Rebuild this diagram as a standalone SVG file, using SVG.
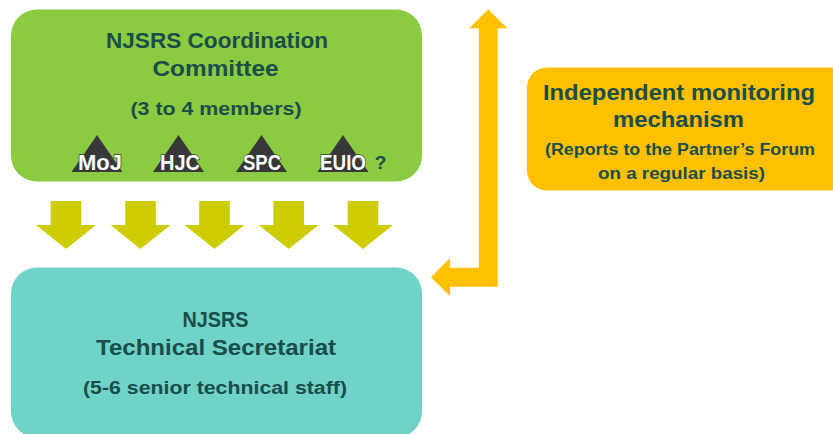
<svg xmlns="http://www.w3.org/2000/svg" width="833" height="434" viewBox="0 0 833 434">
<style>
  .t { font-family: "Liberation Sans", Arial, sans-serif; font-weight: bold; fill: #1B4D4A; text-anchor: middle; }
  .big { font-size: 22px; }
  .mid { font-size: 18px; }
  .sm { font-size: 16px; }
  .lbl { font-family: "Liberation Sans", Arial, sans-serif; font-weight: bold; font-size: 22px; fill: #FFFFFF; stroke: #383838; stroke-width: 1.5px; paint-order: stroke; text-anchor: middle; }
  .tri { fill: #383838; }
  .down { fill: #CCCC00; }
  .up { fill: #FFC000; }
</style>
<rect width="833" height="434" fill="#FFFFFF"/>

<g id="connectors">
  <polygon class="down" points="50.7,201 81.3,201 81.3,225 96,225 66,249 36,225 50.7,225"/>
  <polygon class="down" points="125.2,201 155.8,201 155.8,225 170.5,225 140.5,249 110.5,225 125.2,225"/>
  <polygon class="down" points="199.2,201 229.8,201 229.8,225 244.5,225 214.5,249 184.5,225 199.2,225"/>
  <polygon class="down" points="273.4,201 304,201 304,225 318.7,225 288.7,249 258.7,225 273.4,225"/>
  <polygon class="down" points="347.7,201 378.3,201 378.3,225 393,225 363,249 333,225 347.7,225"/>
  <polygon class="up" points="488.3,9.3 507.3,28.3 497.7,28.3 497.7,286.7 450,286.7 450,296 431,277.3 450,258.3 450,267.7 479,267.7 479,28.3 469.3,28.3"/>
</g>

<g id="committee">
  <rect x="11" y="9.5" width="411" height="172" rx="26" ry="26" fill="#8BCB41"/>
  <text class="t big" x="217" y="48" textLength="222" lengthAdjust="spacingAndGlyphs">NJSRS Coordination</text>
  <text class="t big" x="215.5" y="76" textLength="126" lengthAdjust="spacingAndGlyphs">Committee</text>
  <text class="t mid" x="216" y="115" textLength="171" lengthAdjust="spacingAndGlyphs">(3 to 4 members)</text>
</g>

<g id="moj">
  <polygon class="tri" points="97,135 122.5,172 71.5,172"/>
  <text class="lbl" x="100" y="170" textLength="44" lengthAdjust="spacingAndGlyphs">MoJ</text>
</g>
<g id="hjc">
  <polygon class="tri" points="178.5,135 204,172 153,172"/>
  <text class="lbl" x="180" y="170" textLength="40" lengthAdjust="spacingAndGlyphs">HJC</text>
</g>
<g id="spc">
  <polygon class="tri" points="261.5,135 287,172 236,172"/>
  <text class="lbl" x="262" y="170" textLength="38" lengthAdjust="spacingAndGlyphs">SPC</text>
</g>
<g id="euio">
  <polygon class="tri" points="343,135 368.5,172 317.5,172"/>
  <text class="lbl" x="343" y="170" textLength="46" lengthAdjust="spacingAndGlyphs">EUIO</text>
  <text class="t" x="380.5" y="169" style="font-size:19px">?</text>
</g>

<g id="secretariat">
  <rect x="11" y="267.5" width="411" height="170" rx="26" ry="26" fill="#6FD3C8"/>
  <text class="t big" x="215.5" y="327" textLength="66" lengthAdjust="spacingAndGlyphs">NJSRS</text>
  <text class="t big" x="216" y="355" textLength="240" lengthAdjust="spacingAndGlyphs">Technical Secretariat</text>
  <text class="t mid" x="215" y="394" textLength="264" lengthAdjust="spacingAndGlyphs">(5-6 senior technical staff)</text>
</g>

<g id="monitoring">
  <rect x="527" y="67.5" width="330" height="123" rx="20" ry="20" fill="#FFC000"/>
  <text class="t big" x="679" y="100" textLength="272" lengthAdjust="spacingAndGlyphs">Independent monitoring</text>
  <text class="t big" x="678.5" y="127" textLength="131" lengthAdjust="spacingAndGlyphs">mechanism</text>
  <text class="t sm" x="680" y="154.5" textLength="270" lengthAdjust="spacingAndGlyphs">(Reports to the Partner’s Forum</text>
  <text class="t sm" x="681.5" y="178.5" textLength="167" lengthAdjust="spacingAndGlyphs">on a regular basis)</text>
</g>
</svg>
